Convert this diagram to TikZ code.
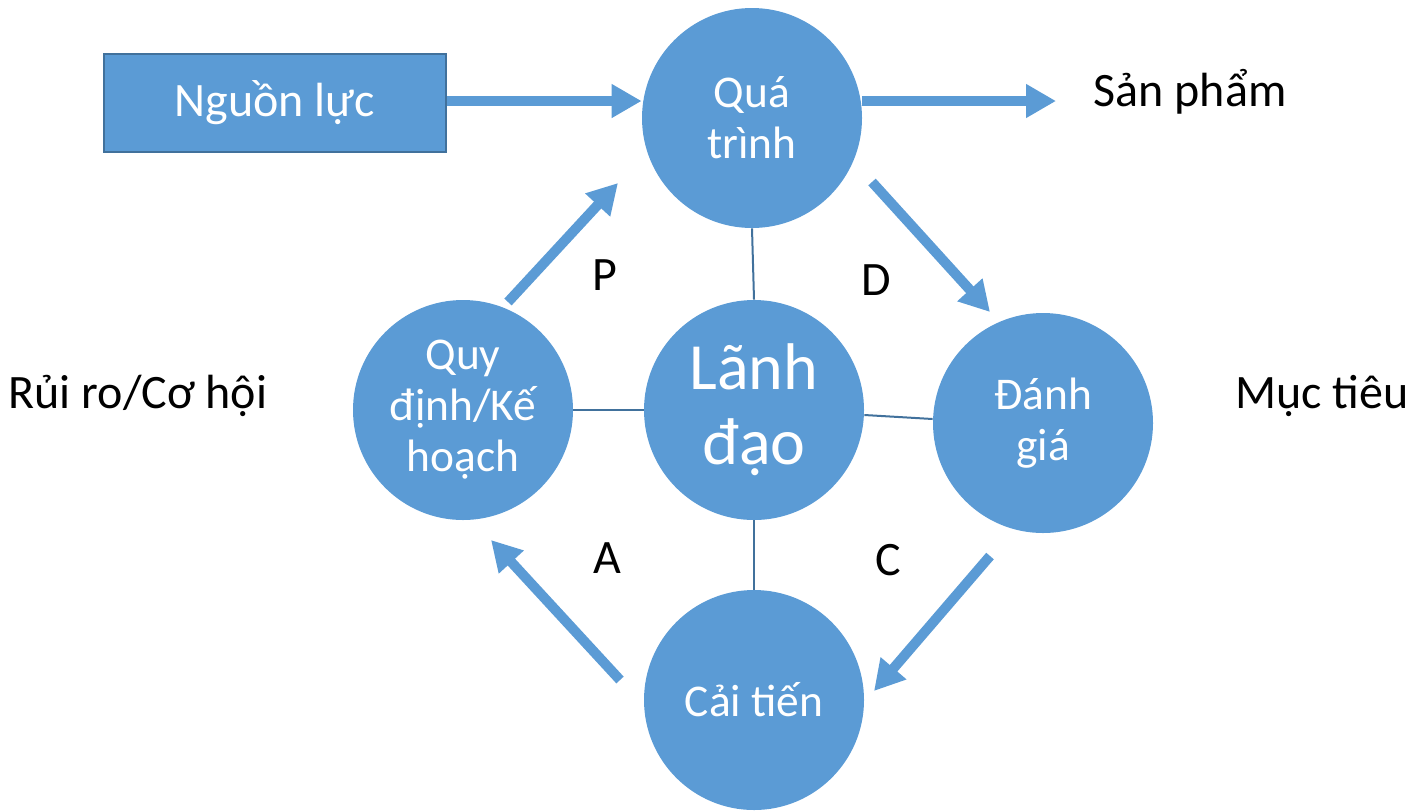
\documentclass[tikz,border=0pt]{standalone}
\usepackage{fontspec}
\setmainfont{Carlito}
\usetikzlibrary{arrows.meta}
\definecolor{fillb}{HTML}{5B9BD5}
\definecolor{edgeb}{HTML}{41719C}
\begin{document}
\begin{tikzpicture}[x=0.5pt,y=-0.5pt,
  circ/.style={circle,fill=fillb,minimum size=110pt,inner sep=0pt,text=white,align=center,font=\fontsize{22.7}{25.5}\selectfont},
  arr/.style={draw=fillb,line width=5pt,-{Triangle[length=15pt,width=16pt]}},
  thin/.style={draw=edgeb,line width=1pt},
  lbl/.style={font=\fontsize{24}{28}\selectfont,text=black,inner sep=0pt}]
\useasboundingbox (0,0) rectangle (1412,810);
\node[draw=edgeb,line width=1.2pt,fill=fillb,minimum width=171pt,minimum height=49pt,text=white,font=\fontsize{24}{28}\selectfont] (nl) at (275,103) {Nguồn lực};
\node[circ] (qt) at (752,118) {Quá\\trình};
\node[circ,font=\fontsize{33}{37.5}\selectfont] (ld) at (754,410) {Lãnh\\đạo};
\node[circ] (qd) at (463,410) {Quy\\định/Kế\\hoạch};
\node[circ] (dg) at (1043,423) {Đánh\\giá};
\node[circ] (ct) at (754,700) {Cải tiến};
\node[lbl] (sp) at (1190,92) {Sản phẩm};
\node[lbl] (rr) at (138,396) {Rủi ro/Cơ hội};
\node[lbl] (mt) at (1322,396) {Mục tiêu};
\node[lbl] (p) at (605,275) {P};
\node[lbl] (d) at (876,280) {D};
\node[lbl] (a) at (607,558) {A};
\node[lbl] (c) at (888,560) {C};
\coordinate (pS) at (508,302); \coordinate (pE) at (618,183);
\coordinate (dS) at (872,182); \coordinate (dE) at (990,312);
\coordinate (cS) at (990,556); \coordinate (cE) at (874,691);
\coordinate (aS) at (620,680); \coordinate (aE) at (491,540);
\coordinate (spE) at (1056,101);
\draw[arr] (nl.east|-0,101) -- (qt.west|-0,101);
\draw[arr] (qt.east|-0,101) -- (spE);
\draw[arr] (pS) -- (pE);
\draw[arr] (dS) -- (dE);
\draw[arr] (cS) -- (cE);
\draw[arr] (aS) -- (aE);
\draw[thin] (qt.south) -- (ld.north);
\draw[thin] (qd.east) -- (ld.west);
\draw[thin] (ld.east|-0,415) -- (dg.west|-0,419);
\draw[thin] (ld.south) -- (ct.north);
\end{tikzpicture}
\end{document}
